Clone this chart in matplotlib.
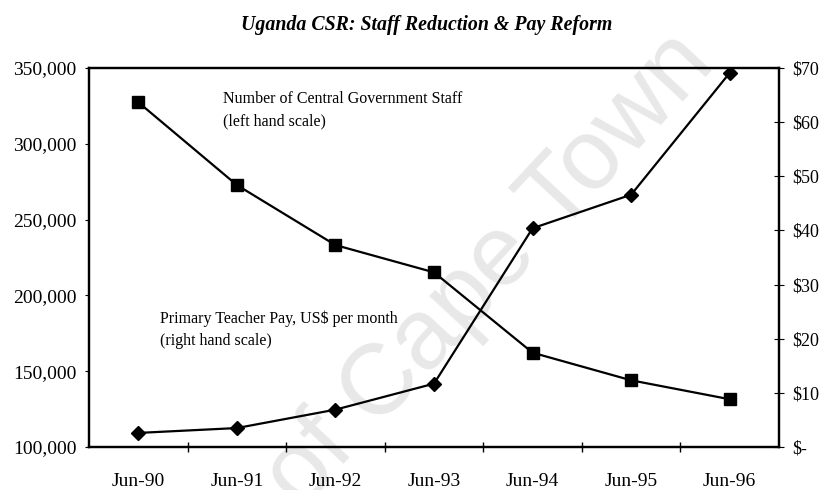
import matplotlib
matplotlib.use("Agg")
import matplotlib.pyplot as plt
from matplotlib.ticker import FuncFormatter, FixedLocator

categories = ["Jun-90", "Jun-91", "Jun-92", "Jun-93", "Jun-94", "Jun-95", "Jun-96"]
staff = [327400, 272800, 233200, 215200, 162200, 144000, 131500]
pay = [2.6, 3.5, 6.9, 11.7, 40.4, 46.6, 69.1]
left_ticks = [100000, 150000, 200000, 250000, 300000, 350000]
right_ticks = [0, 10, 20, 30, 40, 50, 60, 70]
title = "Uganda CSR: Staff Reduction & Pay Reform"
staff_label = "Number of Central Government Staff\n(left hand scale)"
pay_label = "Primary Teacher Pay, US$ per month\n(right hand scale)"
watermark = "University of Cape Town"

plt.rcParams['font.family'] = ['Liberation Serif', 'DejaVu Serif']

fig = plt.figure(figsize=(8.23, 4.90), dpi=100)
ax = fig.add_axes([89/823, 1-447/490, (779-89)/823, (447-68)/490])
ax2 = ax.twinx()

x = list(range(len(categories)))
ax.plot(x, staff, color='black', lw=1.6, marker='s', ms=8, zorder=3)
ax2.plot(x, pay, color='black', lw=1.6, marker='D', ms=7, zorder=3)

ax.set_xlim(-0.5, len(categories) - 0.5)
ax.set_ylim(100000, 350000)
ax2.set_ylim(0, 70)

ax.set_yticks(left_ticks)
ax.yaxis.set_major_formatter(FuncFormatter(lambda v, p: f"{int(v):,}"))
ax2.set_yticks(right_ticks)
ax2.yaxis.set_major_formatter(FuncFormatter(lambda v, p: "$-" if v == 0 else f"${int(v)}"))

ax.set_xticks(x)
ax.set_xticklabels(categories)
ax.xaxis.set_minor_locator(FixedLocator([i + 0.5 for i in range(len(categories) - 1)]))
ax.tick_params(axis='x', which='major', length=0, pad=19, labelsize=14)
ax.tick_params(axis='x', which='minor', length=7, direction='inout', width=1)
ax.tick_params(axis='y', length=3, direction='out', labelsize=14, pad=6)
ax2.tick_params(axis='y', length=7, direction='inout', labelsize=13, pad=6)

for a in (ax, ax2):
    for s in a.spines.values():
        s.set_linewidth(1.6)
        s.set_color('black')

fig.text(427/823, 1-25/490, title, ha='center', va='center', fontsize=14.3,
         fontweight='bold', fontstyle='italic')

fig.text(223/823, 1-110/490, staff_label, ha='left', va='center', fontsize=11.5,
         linespacing=1.5)
fig.text(160/823, 1-330/490, pay_label, ha='left', va='center', fontsize=11.5,
         linespacing=1.5)

ax.text(717/823, 1-65/490, watermark, transform=fig.transFigure,
        ha='right', va='baseline', rotation_mode='anchor', fontsize=72,
        family='Liberation Sans', color='#e8e8e8', rotation=47, zorder=0.5,
        clip_on=False)

fig.savefig("out.png", dpi=100, facecolor='white')
